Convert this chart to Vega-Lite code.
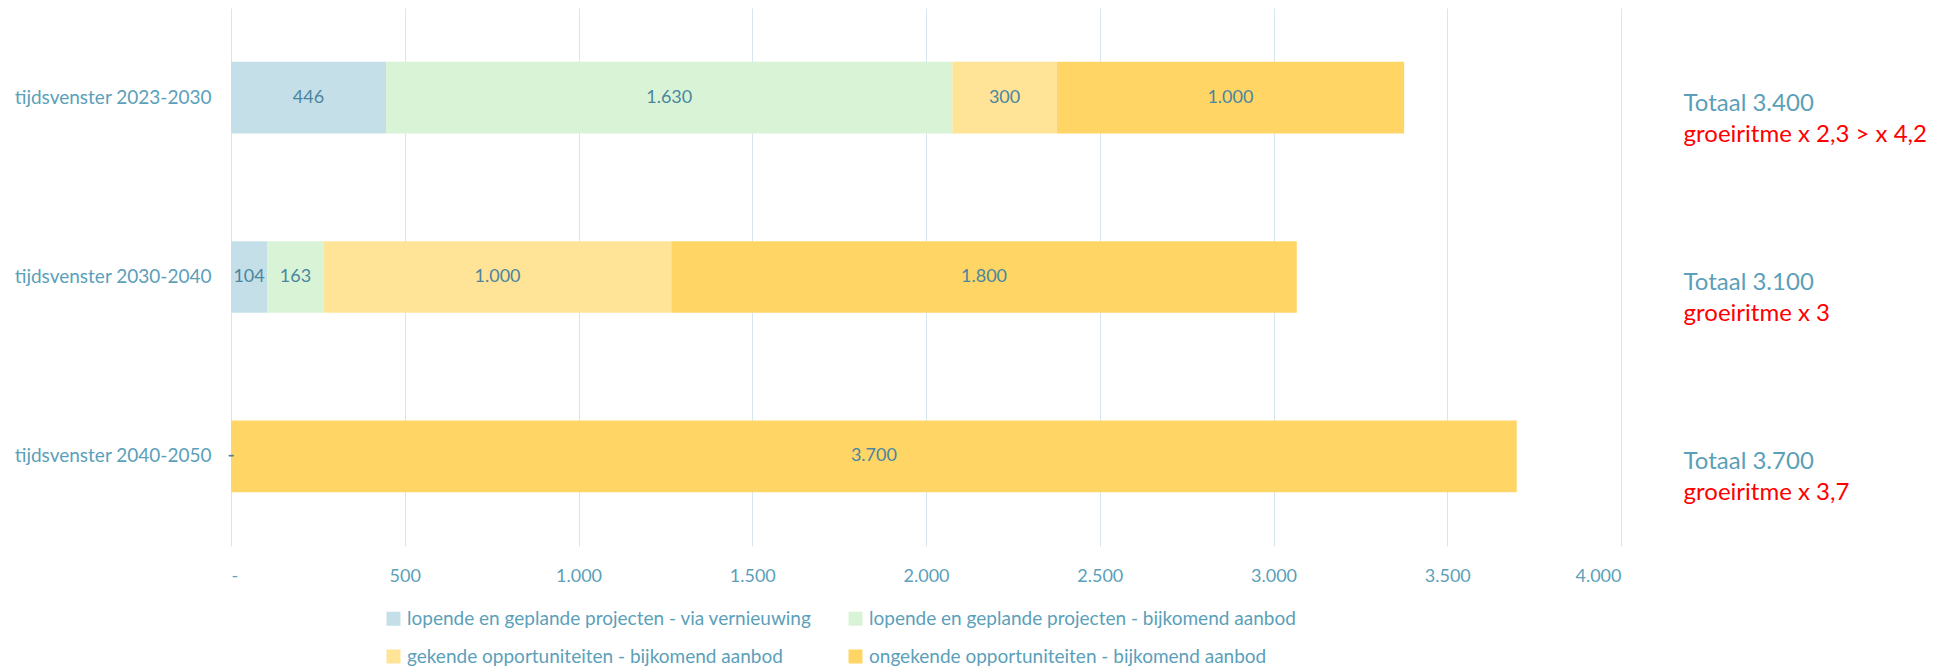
{
  "$schema": "https://vega.github.io/schema/vega-lite/v6.json",
  "width": 1390,
  "height": 538,
  "autosize": {"type": "none"},
  "padding": {"left": 231, "top": 8, "right": 322, "bottom": 124},
  "background": "white",
  "config": {
    "view": {"stroke": null},
    "font": "Lato",
    "locale": {"number": {"decimal": ",", "thousands": ".", "grouping": [3], "currency": ["€", ""]}}
  },
  "datasets": {
    "segments": [
      {"period": "tijdsvenster 2023-2030", "category": "lopende en geplande projecten - via vernieuwing", "order": 1, "value": 446},
      {"period": "tijdsvenster 2023-2030", "category": "lopende en geplande projecten - bijkomend aanbod", "order": 2, "value": 1630},
      {"period": "tijdsvenster 2023-2030", "category": "gekende opportuniteiten - bijkomend aanbod", "order": 3, "value": 300},
      {"period": "tijdsvenster 2023-2030", "category": "ongekende opportuniteiten - bijkomend aanbod", "order": 4, "value": 1000},
      {"period": "tijdsvenster 2030-2040", "category": "lopende en geplande projecten - via vernieuwing", "order": 1, "value": 104},
      {"period": "tijdsvenster 2030-2040", "category": "lopende en geplande projecten - bijkomend aanbod", "order": 2, "value": 163},
      {"period": "tijdsvenster 2030-2040", "category": "gekende opportuniteiten - bijkomend aanbod", "order": 3, "value": 1000},
      {"period": "tijdsvenster 2030-2040", "category": "ongekende opportuniteiten - bijkomend aanbod", "order": 4, "value": 1800},
      {"period": "tijdsvenster 2040-2050", "category": "lopende en geplande projecten - via vernieuwing", "order": 1, "value": 0},
      {"period": "tijdsvenster 2040-2050", "category": "lopende en geplande projecten - bijkomend aanbod", "order": 2, "value": 0},
      {"period": "tijdsvenster 2040-2050", "category": "gekende opportuniteiten - bijkomend aanbod", "order": 3, "value": 0},
      {"period": "tijdsvenster 2040-2050", "category": "ongekende opportuniteiten - bijkomend aanbod", "order": 4, "value": 3700}
    ],
    "notes": [
      {"period": "tijdsvenster 2023-2030", "totaal": "Totaal 3.400", "groei": "groeiritme x 2,3 > x 4,2"},
      {"period": "tijdsvenster 2030-2040", "totaal": "Totaal 3.100", "groei": "groeiritme x 3"},
      {"period": "tijdsvenster 2040-2050", "totaal": "Totaal 3.700", "groei": "groeiritme x 3,7"}
    ]
  },
  "encoding": {
    "y": {
      "field": "period",
      "type": "nominal",
      "sort": null,
      "scale": {"paddingInner": 0.6, "paddingOuter": 0.3},
      "axis": {
        "title": null,
        "ticks": false,
        "domain": false,
        "labelPadding": 20,
        "labelLimit": 400,
        "labelFontSize": 19,
        "labelColor": "#5b9fba",
        "labelFont": "Lato"
      }
    }
  },
  "layer": [
    {
      "data": {"name": "segments"},
      "transform": [
        {"stack": "value", "groupby": ["period"], "sort": [{"field": "order", "order": "ascending"}], "as": ["x0", "x1"]}
      ],
      "mark": {"type": "bar"},
      "encoding": {
        "x": {
          "field": "x0",
          "type": "quantitative",
          "scale": {"domain": [0, 4000], "nice": false},
          "axis": {
            "title": null,
            "values": [0, 500, 1000, 1500, 2000, 2500, 3000, 3500, 4000],
            "format": ",d",
            "labelExpr": "datum.value === 0 ? '-' : datum.label",
            "ticks": false,
            "domain": false,
            "grid": true,
            "gridColor": "#d5e6ee",
            "gridWidth": 1,
            "labelPadding": 21,
            "labelFontSize": 18,
            "labelColor": "#5b9fba",
            "labelFont": "Lato"
          }
        },
        "x2": {"field": "x1"},
        "color": {
          "field": "category",
          "type": "nominal",
          "scale": {
            "domain": [
              "lopende en geplande projecten - via vernieuwing",
              "lopende en geplande projecten - bijkomend aanbod",
              "gekende opportuniteiten - bijkomend aanbod",
              "ongekende opportuniteiten - bijkomend aanbod"
            ],
            "range": ["#c5dfe8", "#d9f3d7", "#ffe397", "#ffd565"]
          },
          "legend": {
            "title": null,
            "orient": "none",
            "legendX": 153,
            "legendY": 601,
            "columns": 2,
            "direction": "horizontal",
            "symbolType": "square",
            "symbolSize": 196,
            "symbolStrokeWidth": 0,
            "labelFontSize": 19,
            "labelColor": "#5b9fba",
            "labelFont": "Lato",
            "labelOffset": 4,
            "rowPadding": 18,
            "columnPadding": 34,
            "labelLimit": 600,
            "padding": 0
          }
        }
      }
    },
    {
      "data": {"name": "segments"},
      "transform": [
        {"stack": "value", "groupby": ["period"], "sort": [{"field": "order", "order": "ascending"}], "as": ["x0", "x1"]},
        {"fold": ["x0", "x1"], "as": ["edge", "pos"]},
        {"aggregate": [{"op": "mean", "field": "pos", "as": "mid"}], "groupby": ["period", "category", "value"]}
      ],
      "mark": {"type": "text", "fontSize": 18, "color": "#4a86a0", "font": "Lato"},
      "encoding": {
        "x": {"field": "mid", "type": "quantitative"},
        "text": {
          "field": "value",
          "type": "quantitative",
          "format": ",d",
          "condition": {"test": "datum.value === 0", "value": "-"}
        }
      }
    },
    {
      "data": {"name": "notes"},
      "mark": {"type": "text", "align": "left", "baseline": "alphabetic", "dy": 13, "fontSize": 24, "color": "#5b9fba", "font": "Lato"},
      "encoding": {
        "x": {"datum": 4180, "type": "quantitative"},
        "text": {"field": "totaal"}
      }
    },
    {
      "data": {"name": "notes"},
      "mark": {"type": "text", "align": "left", "baseline": "alphabetic", "dy": 44, "fontSize": 24, "color": "#ff0000", "font": "Lato"},
      "encoding": {
        "x": {"datum": 4180, "type": "quantitative"},
        "text": {"field": "groei"}
      }
    }
  ]
}
